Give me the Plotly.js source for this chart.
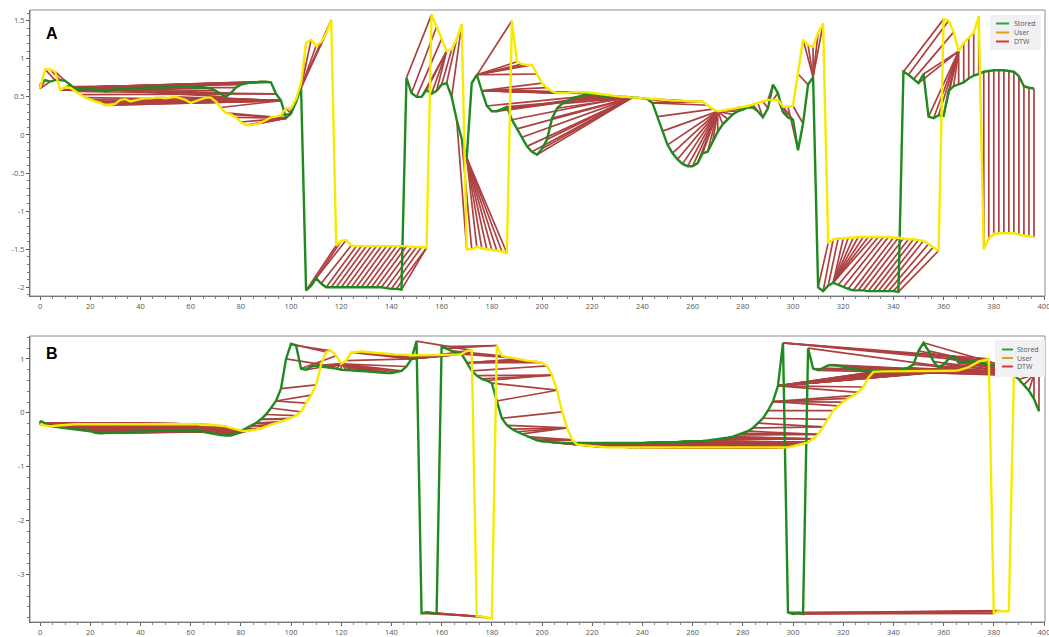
<!DOCTYPE html>
<html>
<head>
<meta charset="utf-8">
<script src="https://cdn.plot.ly/plotly-3.0.1.min.js"></script>
<style>
  html, body { margin: 0; padding: 0; background: #ffffff; }
  #chart { width: 1049px; height: 637px; }
</style>
</head>
<body>
<div id="chart"></div>
<script>
// Samples are taken every SAMPLE_STEP time units.
const SAMPLE_STEP = 2;

// Panel A: stored template and user gesture (t = 0, 2, ..., 396)
const storedA = [
  0.66, 0.72, 0.70, 0.72, 0.72, 0.71, 0.66, 0.60, 0.60, 0.61,
  0.60, 0.59, 0.59, 0.57, 0.58, 0.60, 0.60, 0.61, 0.60, 0.61,
  0.61, 0.62, 0.62, 0.63, 0.62, 0.63, 0.63, 0.64, 0.64, 0.64,
  0.63, 0.62, 0.63, 0.62, 0.61, 0.58, 0.54, 0.50, 0.55, 0.62,
  0.66, 0.68, 0.69, 0.69, 0.70, 0.70, 0.69, 0.54, 0.45, 0.22,
  0.28, 0.43, 0.62, -2.04, -1.98, -1.88, -1.95, -2.00, -2.00, -2.00,
  -2.00, -2.00, -2.00, -2.00, -2.00, -2.00, -2.00, -2.00, -2.00, -2.01,
  -2.02, -2.02, -2.03, 0.75, 0.55, 0.50, 0.50, 0.59, 0.54, 0.58,
  0.66, 0.68, 0.50, 0.20, -0.07, -0.30, 0.68, 0.79, 0.58, 0.38,
  0.31, 0.31, 0.34, 0.37, 0.20, 0.08, -0.03, -0.15, -0.22, -0.26,
  -0.18, -0.06, 0.22, 0.35, 0.41, 0.45, 0.48, 0.50, 0.52, 0.53,
  0.53, 0.52, 0.51, 0.51, 0.51, 0.50, 0.50, 0.50, 0.49, 0.49,
  0.48, 0.47, 0.42, 0.24, 0.05, -0.13, -0.24, -0.32, -0.38, -0.41,
  -0.41, -0.37, -0.24, -0.22, -0.09, 0.04, 0.14, 0.21, 0.27, 0.31,
  0.34, 0.36, 0.36, 0.31, 0.23, 0.35, 0.66, 0.55, 0.30, 0.23,
  0.20, -0.20, 0.15, 0.66, 0.76, -2.00, -2.05, -1.98, -1.94, -1.97,
  -2.00, -2.02, -2.04, -2.04, -2.04, -2.05, -2.05, -2.05, -2.05, -2.05,
  -2.05, -2.06, 0.83, 0.79, 0.73, 0.68, 0.80, 0.24, 0.22, 0.26,
  0.25, 0.58, 0.64, 0.67, 0.69, 0.74, 0.78, 0.80, 0.83, 0.84,
  0.85, 0.85, 0.85, 0.84, 0.83, 0.77, 0.64, 0.62, 0.61
];
const userA = [
  0.61, 0.86, 0.86, 0.83, 0.59, 0.63, 0.62, 0.57, 0.53, 0.49,
  0.46, 0.44, 0.42, 0.39, 0.39, 0.41, 0.46, 0.47, 0.44, 0.46,
  0.47, 0.48, 0.48, 0.49, 0.49, 0.48, 0.49, 0.50, 0.48, 0.46,
  0.42, 0.44, 0.46, 0.49, 0.49, 0.44, 0.36, 0.29, 0.27, 0.23,
  0.17, 0.13, 0.13, 0.14, 0.16, 0.19, 0.23, 0.24, 0.26, 0.35,
  0.35, 0.47, 0.68, 1.21, 1.25, 1.17, 1.22, 1.33, 1.51, -1.45,
  -1.39, -1.38, -1.45, -1.46, -1.46, -1.46, -1.46, -1.46, -1.46, -1.46,
  -1.46, -1.46, -1.46, -1.46, -1.47, -1.47, -1.47, -1.48, 1.58, 1.42,
  1.26, 1.10, 1.12, 1.26, 1.45, -1.50, -1.50, -1.47, -1.49, -1.50,
  -1.51, -1.52, -1.53, -1.55, 1.50, 0.96, 0.93, 0.92, 0.92, 0.80,
  0.68, 0.62, 0.57, 0.55, 0.55, 0.55, 0.56, 0.56, 0.56, 0.56,
  0.55, 0.54, 0.53, 0.53, 0.52, 0.51, 0.50, 0.50, 0.49, 0.49,
  0.48, 0.48, 0.47, 0.47, 0.46, 0.46, 0.45, 0.45, 0.45, 0.44,
  0.44, 0.44, 0.44, 0.39, 0.34, 0.31, 0.32, 0.33, 0.34, 0.36,
  0.37, 0.38, 0.40, 0.42, 0.44, 0.46, 0.46, 0.46, 0.37, 0.37,
  0.38, 0.80, 1.25, 1.18, 1.16, 1.34, 1.46, -1.42, -1.37, -1.36,
  -1.36, -1.35, -1.35, -1.34, -1.34, -1.34, -1.34, -1.34, -1.34, -1.34,
  -1.35, -1.35, -1.36, -1.37, -1.37, -1.38, -1.39, -1.43, -1.47, -1.52,
  1.52, 1.50, 1.35, 1.10, 1.21, 1.27, 1.34, 1.56, -1.50, -1.36,
  -1.30, -1.29, -1.29, -1.29, -1.29, -1.31, -1.32, -1.33, -1.34
];

// Panel B: stored template and user gesture (t = 0, 2, ..., 398)
const storedB = [
  -0.15, -0.19, -0.24, -0.26, -0.27, -0.28, -0.29, -0.30, -0.31, -0.32,
  -0.34, -0.37, -0.38, -0.37, -0.37, -0.36, -0.36, -0.36, -0.35, -0.35,
  -0.34, -0.34, -0.34, -0.33, -0.33, -0.33, -0.33, -0.33, -0.33, -0.33,
  -0.33, -0.34, -0.34, -0.36, -0.38, -0.39, -0.41, -0.42, -0.42, -0.39,
  -0.34, -0.29, -0.24, -0.19, -0.12, -0.03, 0.09, 0.22, 0.45, 1.00,
  1.28, 1.25, 0.82, 0.80, 0.86, 0.88, 0.86, 0.85, 0.84, 0.82,
  0.80, 0.80, 0.79, 0.78, 0.78, 0.77, 0.76, 0.75, 0.75, 0.74,
  0.74, 0.76, 0.78, 0.86, 1.00, 1.33, -3.72, -3.70, -3.71, -3.72,
  1.23, 1.19, 1.15, 1.11, 1.09, 0.93, 0.78, 0.69, 0.63, 0.60,
  0.55, 0.22, -0.10, -0.23, -0.30, -0.35, -0.39, -0.44, -0.48, -0.51,
  -0.53, -0.54, -0.55, -0.55, -0.56, -0.56, -0.56, -0.56, -0.56, -0.57,
  -0.57, -0.57, -0.57, -0.57, -0.57, -0.57, -0.57, -0.57, -0.57, -0.56,
  -0.56, -0.55, -0.55, -0.55, -0.54, -0.54, -0.54, -0.54, -0.53, -0.53,
  -0.53, -0.53, -0.52, -0.51, -0.50, -0.49, -0.47, -0.46, -0.44, -0.41,
  -0.38, -0.34, -0.28, -0.19, -0.10, 0.04, 0.21, 0.50, 1.30, -3.70,
  -3.73, -3.71, -3.73, 1.20, 0.82, 0.79, 0.83, 0.88, 0.89, 0.87,
  0.85, 0.83, 0.81, 0.79, 0.78, 0.77, 0.77, 0.77, 0.77, 0.77,
  0.78, 0.79, 0.81, 0.84, 0.90, 1.15, 1.30, 1.15, 0.95, 0.84,
  0.90, 1.00, 1.05, 0.93, 0.94, 0.95, 0.96, 0.94, 0.92, 0.90,
  0.89, 0.87, 0.83, 0.77, 0.70, 0.62, 0.52, 0.41, 0.26, 0.03
];
const userB = [
  -0.22, -0.23, -0.25, -0.24, -0.23, -0.22, -0.22, -0.21, -0.21, -0.21,
  -0.20, -0.20, -0.20, -0.20, -0.20, -0.20, -0.20, -0.20, -0.20, -0.20,
  -0.20, -0.20, -0.20, -0.20, -0.20, -0.20, -0.20, -0.20, -0.20, -0.21,
  -0.21, -0.21, -0.22, -0.22, -0.22, -0.23, -0.24, -0.25, -0.28, -0.31,
  -0.33, -0.34, -0.33, -0.31, -0.29, -0.25, -0.22, -0.19, -0.16, -0.12,
  -0.10, -0.05, 0.02, 0.18, 0.33, 0.52, 0.90, 1.13, 1.15, 1.06,
  0.91, 0.97, 1.12, 1.13, 1.14, 1.13, 1.12, 1.11, 1.10, 1.10,
  1.09, 1.08, 1.08, 1.07, 1.07, 1.07, 1.07, 1.07, 1.07, 1.07,
  1.07, 1.07, 1.07, 1.08, 1.09, 1.15, 1.16, -3.77, -3.78, -3.79,
  -3.81, 1.25, 1.06, 1.04, 1.02, 1.00, 0.99, 0.97, 0.96, 0.95,
  0.93, 0.87, 0.70, 0.42, 0.02, -0.28, -0.50, -0.59, -0.60, -0.61,
  -0.62, -0.63, -0.64, -0.64, -0.64, -0.64, -0.64, -0.64, -0.65, -0.65,
  -0.65, -0.65, -0.65, -0.65, -0.65, -0.65, -0.65, -0.65, -0.65, -0.65,
  -0.65, -0.65, -0.65, -0.65, -0.65, -0.65, -0.65, -0.65, -0.65, -0.65,
  -0.65, -0.65, -0.65, -0.65, -0.65, -0.65, -0.65, -0.65, -0.65, -0.64,
  -0.62, -0.60, -0.58, -0.55, -0.48, -0.40, -0.26, -0.12, 0.04, 0.13,
  0.20, 0.27, 0.32, 0.38, 0.48, 0.65, 0.76, 0.77, 0.77, 0.77,
  0.77, 0.77, 0.77, 0.77, 0.77, 0.77, 0.77, 0.77, 0.77, 0.77,
  0.77, 0.78, 0.78, 0.79, 0.82, 0.85, 0.90, 0.95, 0.98, 1.00,
  -3.72, -3.67, -3.68, -3.68, 0.68, 0.69, 0.70, 0.70, 0.71, 0.71
];

const seriesNames = ['Stored', 'User', 'DTW'];
const panelLabels = ['A', 'B'];
const yTickValsA = [-2, -1.5, -1, -0.5, 0, 0.5, 1, 1.5];
const yTickTextA = ['-2', '-1.5', '-1', '-0.5', '0', '0.5', '1', '1.5'];
const yTickValsB = [-3, -2, -1, 0, 1];
const yTickTextB = ['-3', '-2', '-1', '0', '1'];

// Styling
const STORED_COLOR = '#1f8a1f';
const USER_COLOR = '#f6ea00';
const DTW_COLOR = '#ad4040';
const LEGEND_COLORS = ['#3c9c3c', '#d9a21b', '#d03b3b'];
const TICK_FONT = { family: 'Open Sans, DejaVu Sans, sans-serif', size: 7.5, color: '#555' };
const LEGEND_FONT = { family: 'Open Sans, DejaVu Sans, sans-serif', size: 7, color: '#555' };

// Plot-area geometry in pixels, used for domains and overlay placement
const GEOM = { width: 1049, height: 637, left: 30, right: 1045,
  panels: [{ top: 10, bottom: 296 }, { top: 336, bottom: 622 }] };

function dx(px) { return (px - GEOM.left) / (GEOM.right - GEOM.left); }
function dy(p, py) { const g = GEOM.panels[p]; return (g.bottom - py) / (g.bottom - g.top); }

// Classic dynamic time warping; returns the optimal alignment path as [i, j] pairs.
function dtwPath(a, b) {
  const n = a.length, m = b.length;
  const D = [];
  for (let i = 0; i < n; i++) D.push(new Float64Array(m));
  for (let i = 0; i < n; i++) {
    for (let j = 0; j < m; j++) {
      const c = Math.abs(a[i] - b[j]);
      let best;
      if (i === 0 && j === 0) best = 0;
      else if (i === 0) best = D[0][j - 1];
      else if (j === 0) best = D[i - 1][0];
      else best = Math.min(D[i - 1][j], D[i][j - 1], D[i - 1][j - 1]);
      D[i][j] = c + best;
    }
  }
  const path = [];
  let i = n - 1, j = m - 1;
  path.push([i, j]);
  while (i > 0 || j > 0) {
    if (i === 0) j--;
    else if (j === 0) i--;
    else {
      const d = D[i - 1][j - 1], u = D[i - 1][j], l = D[i][j - 1];
      if (d <= u && d <= l) { i--; j--; }
      else if (u <= l) i--;
      else j--;
    }
    path.push([i, j]);
  }
  return path.reverse();
}

function timeAxis(values) { return values.map((_, k) => k * SAMPLE_STEP); }

function panelTraces(stored, user, xa, ya) {
  const ts = timeAxis(stored), tu = timeAxis(user);
  const lx = [], ly = [];
  dtwPath(stored, user).forEach(([i, j]) => {
    lx.push(ts[i], tu[j], null);
    ly.push(stored[i], user[j], null);
  });
  return [
    { type: 'scatter', mode: 'lines', name: seriesNames[2], x: lx, y: ly, xaxis: xa, yaxis: ya,
      line: { color: DTW_COLOR, width: 1.7 }, showlegend: false, hoverinfo: 'skip' },
    { type: 'scatter', mode: 'lines', name: seriesNames[0], x: ts, y: stored, xaxis: xa, yaxis: ya,
      line: { color: STORED_COLOR, width: 2.4 }, showlegend: false, hoverinfo: 'skip' },
    { type: 'scatter', mode: 'lines', name: seriesNames[1], x: tu, y: user, xaxis: xa, yaxis: ya,
      line: { color: USER_COLOR, width: 2.4 }, showlegend: false, hoverinfo: 'skip' }
  ];
}

const data = [].concat(
  panelTraces(storedA, userA, 'x', 'y'),
  panelTraces(storedB, userB, 'x2', 'y2')
);

const plotH = GEOM.panels[1].bottom - GEOM.panels[0].top;
const domA = [(GEOM.panels[1].bottom - GEOM.panels[0].bottom) / plotH, 1];
const domB = [0, (GEOM.panels[1].bottom - GEOM.panels[1].top) / plotH];

function xAxis(anchor) {
  return {
    anchor: anchor, domain: [0, 1], range: [-4, 400.4],
    tickmode: 'linear', tick0: 0, dtick: 20,
    ticks: 'outside', ticklen: 3, tickcolor: '#666', tickwidth: 1,
    minor: { tickmode: 'linear', tick0: 0, dtick: 5, ticks: 'outside', ticklen: 2, tickcolor: '#888', showgrid: false },
    showline: true, linecolor: '#666', linewidth: 1, ticklabeloverflow: 'allow',
    showgrid: false, zeroline: false, tickfont: TICK_FONT, fixedrange: true
  };
}
function yAxis(anchor, domain, range, vals, text, minorStep) {
  return {
    anchor: anchor, domain: domain, range: range,
    tickmode: 'array', tickvals: vals, ticktext: text,
    ticks: 'outside', ticklen: 3, tickcolor: '#555', tickwidth: 1,
    minor: { tickmode: 'linear', tick0: 0, dtick: minorStep, ticks: 'outside', ticklen: 2, tickcolor: '#777', showgrid: false },
    showline: true, linecolor: '#555', linewidth: 1,
    showgrid: false, zeroline: false, tickfont: TICK_FONT, fixedrange: true
  };
}

// Frames, legend boxes and legend keys
const shapes = [];
const annotations = [];
const axisRefs = [['x', 'y'], ['x2', 'y2']];
const legendBoxes = [
  { x0: 990, x1: 1041, y0: 15, y1: 50, rows: [23.5, 32.5, 41.5], k0: 996, k1: 1009, tx: 1013 },
  { x0: 995, x1: 1045, y0: 340, y1: 377, rows: [349.5, 358, 366.5], k0: 1002, k1: 1013, tx: 1016 }
];
const labelPos = [{ x: 51.5, y: 33 }, { x: 51.5, y: 353 }];

axisRefs.forEach(([xr, yr], p) => {
  const xd = xr + ' domain', yd = yr + ' domain';
  shapes.push({ type: 'rect', xref: xd, yref: yd, x0: 0, x1: 1, y0: 0, y1: 1,
    line: { color: '#8c8c8c', width: 1 }, fillcolor: 'rgba(0,0,0,0)', layer: 'above' });
  const lb = legendBoxes[p];
  shapes.push({ type: 'rect', xref: xd, yref: yd, x0: dx(lb.x0), x1: dx(lb.x1), y0: dy(p, lb.y1), y1: dy(p, lb.y0),
    line: { width: 0 }, fillcolor: '#f1f1f3', layer: 'above' });
  seriesNames.forEach((name, k) => {
    shapes.push({ type: 'line', xref: xd, yref: yd, x0: dx(lb.k0), x1: dx(lb.k1), y0: dy(p, lb.rows[k]), y1: dy(p, lb.rows[k]),
      line: { color: LEGEND_COLORS[k], width: 2 }, layer: 'above' });
    annotations.push({ xref: xd, yref: yd, x: dx(lb.tx), y: dy(p, lb.rows[k]), xanchor: 'left', yanchor: 'middle',
      text: name, showarrow: false, font: LEGEND_FONT, borderpad: 0 });
  });
  annotations.push({ xref: xd, yref: yd, x: dx(labelPos[p].x), y: dy(p, labelPos[p].y), xanchor: 'center', yanchor: 'middle',
    text: '<b>' + panelLabels[p] + '</b>', showarrow: false,
    font: { family: 'Liberation Sans, Arial, sans-serif', size: 16, color: '#000' } });
});

const layout = {
  width: GEOM.width, height: GEOM.height,
  margin: { l: GEOM.left, r: GEOM.width - GEOM.right, t: GEOM.panels[0].top, b: GEOM.height - GEOM.panels[1].bottom, pad: 0 },
  paper_bgcolor: '#ffffff', plot_bgcolor: '#ffffff',
  showlegend: false,
  xaxis: xAxis('y'),
  yaxis: yAxis('x', domA, [-2.114, 1.64], yTickValsA, yTickTextA, 0.1),
  xaxis2: xAxis('y2'),
  yaxis2: yAxis('x2', domB, [-3.88, 1.426], yTickValsB, yTickTextB, 0.2),
  shapes: shapes,
  annotations: annotations
};

Plotly.newPlot('chart', data, layout, { displayModeBar: false, staticPlot: true });
</script>
</body>
</html>
